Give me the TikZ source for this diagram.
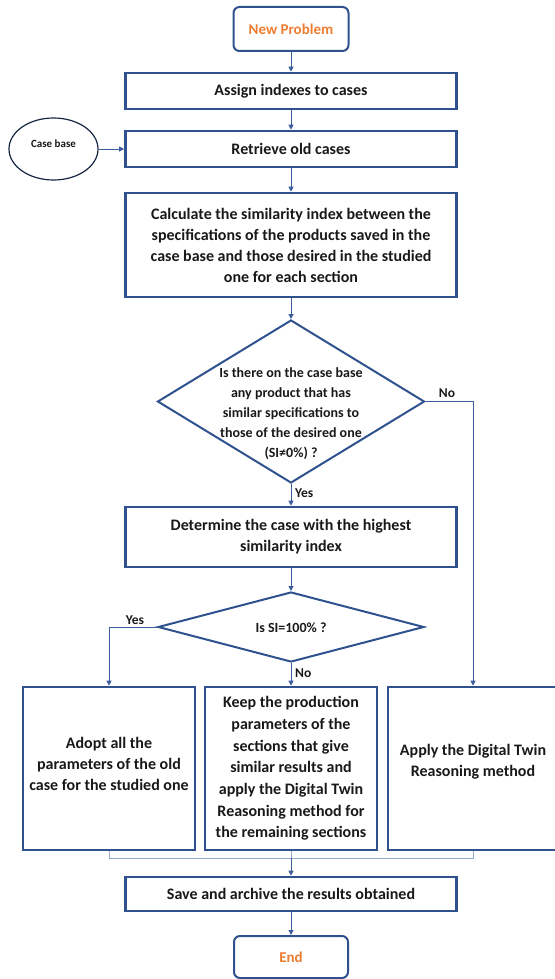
\documentclass[tikz,border=0pt]{standalone}
\usepackage{fontspec}
\setmainfont{Carlito}
\usetikzlibrary{shapes.geometric,arrows.meta}
\definecolor{frame}{RGB}{47,82,143}
\definecolor{wire}{RGB}{60,92,155}
\definecolor{joinline}{RGB}{150,170,205}
\definecolor{accent}{RGB}{237,125,49}
\definecolor{ink}{RGB}{25,25,25}

\begin{document}
\begin{tikzpicture}[x=1pt,y=-1pt,
  procbox/.style={draw=frame, line width=2.6pt, fill=white, align=center, inner sep=0pt,
    text=ink, font=\fontsize{16}{21}\selectfont\bfseries},
  proctext/.style={align=center, inner sep=0pt, text=ink, font=\fontsize{16}{21}\selectfont\bfseries},
  terminal/.style={draw=frame, line width=2pt, rounded corners=6pt, inner sep=0pt,
    text=accent, font=\fontsize{15}{18}\selectfont\bfseries},
  decision/.style={draw=frame, line width=2pt, diamond, inner sep=0pt},
  qtext/.style={align=center, inner sep=0pt, text=ink, font=\fontsize{14}{20}\selectfont\bfseries},
  flow/.style={draw=wire, line width=1pt, -{Triangle[length=5pt,width=5pt]}},
  joinwire/.style={draw=joinline, line width=1pt},
  tag/.style={inner sep=0pt, text=ink, font=\fontsize{13.5}{16}\selectfont\bfseries}
]
\useasboundingbox (0,0) rectangle (554,979);

% terminals and main column
\node[terminal, minimum width=115pt, minimum height=44pt] (newp) at (291,29) {New Problem};
\node[procbox, minimum width=331pt, minimum height=36pt] (assign) at (291,91) {Assign indexes to cases};
\node[procbox, minimum width=331pt, minimum height=36pt] (retrieve) at (291,149) {Retrieve old cases};
\node[ellipse, draw=frame!45!black, line width=1.2pt, minimum width=89pt, minimum height=62pt,
  inner sep=0pt] (cb) at (53.5,149) {};
\node[inner sep=0pt, text=ink, font=\fontsize{11}{13}\selectfont\bfseries] (cbt) at (53.5,144) {Case base};
\node[procbox, minimum width=331pt, minimum height=104pt] (calc) at (291,245)
  {Calculate the similarity index between the\\specifications of the products saved in the\\case base and those desired in the studied\\one for each section};

% first decision
\node[decision, minimum width=267pt, minimum height=163pt] (d1) at (291,401.5) {};
\node[qtext] (q1) at (291,414)
  {Is there on the case base\\any product that has\\similar specifications to\\those of the desired one\\(SI≠0\%) ?};

\node[procbox, minimum width=331pt, minimum height=60pt] (determine) at (291,537)
  {Determine the case with the highest\\similarity index};

% second decision
\node[decision, minimum width=266pt, minimum height=70pt] (d2) at (291,627) {};
\node[qtext] (q2) at (291,628) {Is SI=100\% ?};

% three outcomes
\node[procbox, minimum width=172pt, minimum height=163pt] (b1) at (109,768.5) {};
\node[proctext] (b1t) at (109,764) {Adopt all the\\parameters of the old\\case for the studied one};
\node[procbox, minimum width=172pt, minimum height=163pt, font=\fontsize{16}{21.7}\selectfont\bfseries] (b2) at (291,768.5)
  {Keep the production\\parameters of the\\sections that give\\similar results and\\apply the Digital Twin\\Reasoning method for\\the remaining sections};
\node[procbox, minimum width=170pt, minimum height=163pt] (b3) at (473,768.5) {};
\node[proctext] (b3t) at (473,762) {Apply the Digital Twin\\Reasoning method};

\node[procbox, minimum width=331pt, minimum height=34pt] (save) at (291,894)
  {Save and archive the results obtained};
\node[terminal, minimum width=114pt, minimum height=42pt] (endn) at (291,957) {End};

% connectors
\draw[flow] (newp) -- (assign);
\draw[flow] (assign) -- (retrieve);
\draw[flow] (cb.east) -- (retrieve.west);
\draw[flow] (retrieve) -- (calc);
\draw[flow] (calc) -- (d1.north);
\draw[flow] (d1.south) -- (determine.north);
\node[tag, anchor=west] (yes1) at (295,493) {Yes};
\draw[flow] (d1.east) -- (d1.east -| b3.north) -- (b3.north);
\node[tag] (no1) at (447,393) {No};
\draw[flow] (determine) -- (d2.north);
\draw[flow] (d2.west) -| (b1.north);
\node[tag] (yes2) at (135,620) {Yes};
\draw[flow] (d2.south) -- (b2.north);
\node[tag, anchor=west] (no2) at (295,673) {No};

% merge of the three outcomes
\coordinate (mj) at (291,858);
\draw[joinwire] (b1.south) |- (mj) -| (b3.south);
\draw[joinwire] (b2.south) -- (mj);
\draw[flow] (mj) -- (save.north);
\draw[flow] (save) -- (endn);
\end{tikzpicture}
\end{document}
